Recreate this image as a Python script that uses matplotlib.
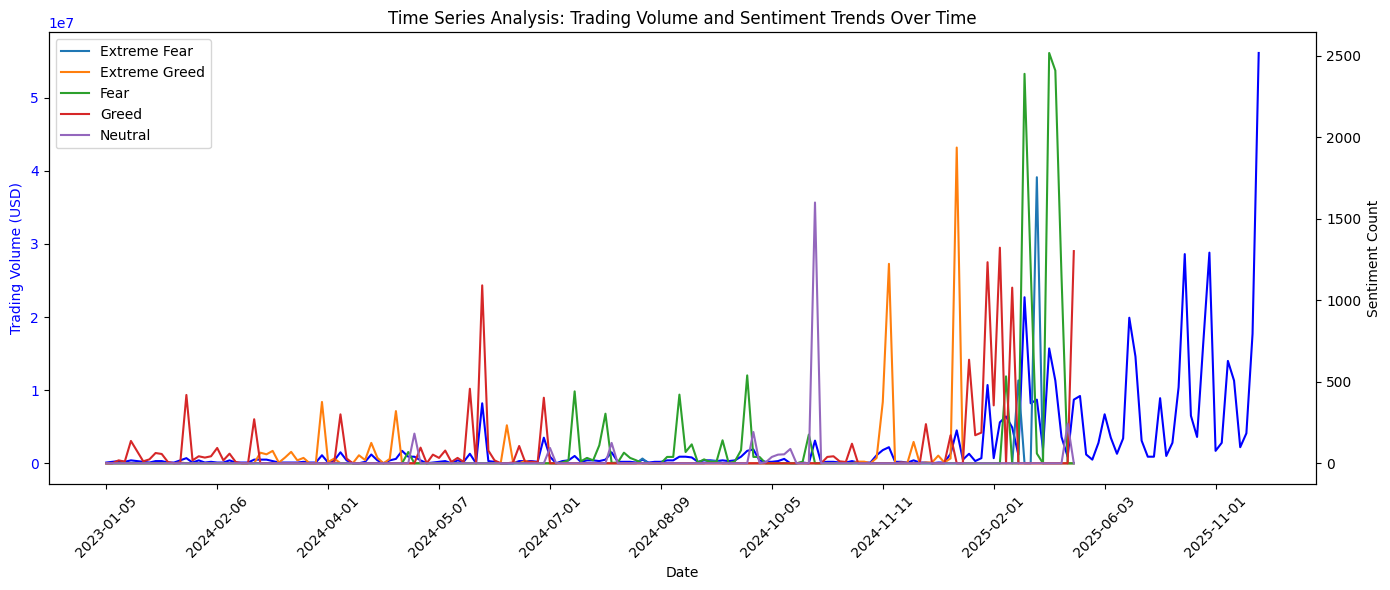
import numpy as np
import matplotlib
matplotlib.use('Agg')
from matplotlib import pyplot as plt

# Tick labels shown on the x axis (one every 18 dates)
tick_labels = ['2023-01-05', '2024-02-06', '2024-04-01', '2024-05-07', '2024-07-01',
               '2024-08-09', '2024-10-05', '2024-11-11', '2025-02-01', '2025-06-03',
               '2025-11-01']
tick_step = 18

# Daily trading volume, in units of 1e7 USD
volume_e7 = [
    0.01, 0.02, 0.03, 0.02, 0.04, 0.03, 0.02, 0.01, 0.03, 0.03,
    0.01, 0.01, 0.04, 0.07, 0.01, 0.04, 0.01, 0.02, 0.01, 0.01,
    0.04, 0.01, 0.01, 0.01, 0.05, 0.05, 0.05, 0.03, 0.01, 0.01,
    0.01, 0.01, 0.02, 0.01, 0.01, 0.11, 0.01, 0.04, 0.15, 0.04,
    0.00, 0.00, 0.02, 0.12, 0.04, 0.00, 0.04, 0.06, 0.17, 0.09,
    0.09, 0.04, 0.00, 0.01, 0.02, 0.03, 0.00, 0.04, 0.02, 0.13,
    0.00, 0.82, 0.03, 0.02, 0.00, 0.00, 0.00, 0.03, 0.03, 0.03,
    0.02, 0.35, 0.09, 0.00, 0.03, 0.04, 0.10, 0.02, 0.04, 0.04,
    0.03, 0.05, 0.15, 0.02, 0.02, 0.02, 0.01, 0.05, 0.01, 0.02,
    0.02, 0.04, 0.04, 0.09, 0.09, 0.08, 0.02, 0.04, 0.04, 0.03,
    0.04, 0.03, 0.04, 0.09, 0.17, 0.19, 0.04, 0.02, 0.02, 0.03,
    0.06, 0.00, 0.00, 0.01, 0.00, 0.31, 0.01, 0.02, 0.02, 0.01,
    0.01, 0.03, 0.01, 0.01, 0.01, 0.11, 0.18, 0.22, 0.02, 0.02,
    0.01, 0.04, 0.01, 0.01, 0.00, 0.01, 0.01, 0.13, 0.45, 0.05,
    0.13, 0.03, 0.07, 1.07, 0.07, 0.56, 0.64, 0.49, 0.12, 2.27,
    0.82, 0.87, 0.20, 1.57, 1.13, 0.36, 0.09, 0.87, 0.92, 0.12,
    0.05, 0.28, 0.67, 0.35, 0.13, 0.34, 1.99, 1.46, 0.31, 0.09,
    0.09, 0.89, 0.10, 0.28, 1.04, 2.86, 0.65, 0.36, 1.64, 2.88,
    0.17, 0.28, 1.40, 1.13, 0.22, 0.41, 1.77, 5.61,
]

# Sentiment counts per date (shorter series, same dates from the start)
extreme_fear = [
    0, 0, 0, 0, 0, 0, 0, 0, 0, 0,
    0, 0, 0, 0, 0, 0, 0, 0, 0, 0,
    0, 0, 0, 0, 0, 0, 0, 0, 0, 0,
    0, 0, 0, 0, 0, 0, 0, 0, 0, 0,
    0, 0, 0, 0, 0, 0, 0, 0, 0, 0,
    0, 0, 0, 0, 0, 0, 0, 0, 0, 0,
    0, 0, 0, 0, 0, 0, 0, 0, 0, 0,
    0, 0, 0, 0, 0, 0, 0, 0, 0, 0,
    0, 0, 0, 0, 0, 0, 0, 29, 0, 0,
    0, 0, 0, 0, 0, 0, 0, 0, 15, 15,
    0, 0, 0, 0, 0, 0, 0, 0, 0, 0,
    0, 0, 0, 0, 0, 0, 0, 0, 0, 0,
    0, 0, 0, 0, 0, 0, 0, 0, 0, 0,
    0, 0, 0, 0, 0, 0, 0, 0, 0, 0,
    0, 0, 0, 0, 0, 0, 0, 0, 508, 0,
    0, 1754, 0, 0, 0, 0, 0, 0,
]
extreme_greed = [
    0, 0, 0, 0, 0, 0, 0, 0, 0, 0,
    0, 0, 5, 0, 0, 0, 0, 0, 0, 0,
    0, 0, 0, 0, 0, 65, 55, 76, 4, 35,
    70, 18, 33, 0, 0, 376, 8, 29, 0, 0,
    0, 49, 20, 125, 33, 0, 27, 320, 0, 0,
    0, 0, 0, 0, 0, 0, 0, 0, 0, 0,
    0, 0, 0, 0, 0, 233, 8, 0, 15, 5,
    0, 0, 0, 0, 0, 0, 0, 0, 0, 0,
    0, 0, 0, 0, 0, 0, 0, 0, 0, 0,
    0, 0, 0, 0, 0, 0, 0, 0, 0, 0,
    0, 0, 0, 0, 0, 0, 0, 0, 0, 0,
    0, 0, 0, 0, 0, 0, 0, 0, 0, 0,
    0, 0, 10, 10, 0, 33, 376, 1223, 0, 5,
    3, 131, 0, 5, 5, 47, 5, 30, 1936, 0,
    0, 0, 0, 0, 0, 0, 0, 0, 0, 0,
    0, 0, 0, 0, 0, 0, 0, 0,
]
fear = [
    0, 0, 0, 0, 0, 0, 0, 0, 0, 0,
    0, 0, 0, 0, 0, 0, 0, 0, 0, 0,
    0, 0, 0, 0, 0, 0, 0, 0, 0, 0,
    0, 0, 0, 0, 0, 0, 0, 0, 0, 0,
    0, 0, 0, 0, 0, 0, 0, 0, 0, 69,
    0, 0, 0, 0, 0, 0, 0, 0, 0, 0,
    0, 0, 0, 0, 0, 0, 0, 0, 0, 0,
    0, 0, 0, 0, 5, 18, 441, 12, 33, 18,
    110, 304, 2, 5, 65, 33, 18, 0, 0, 0,
    0, 39, 39, 421, 69, 116, 4, 24, 8, 8,
    141, 0, 12, 80, 539, 39, 39, 0, 0, 0,
    0, 0, 0, 10, 176, 0, 0, 0, 0, 0,
    0, 0, 0, 0, 0, 0, 0, 0, 0, 0,
    0, 0, 0, 0, 0, 0, 0, 0, 0, 0,
    0, 0, 0, 0, 0, 0, 533, 0, 0, 2388,
    1200, 60, 0, 2516, 2408, 1150, 0, 0,
]
greed = [
    0, 0, 18, 10, 137, 75, 12, 24, 63, 57,
    8, 0, 0, 419, 18, 43, 35, 43, 94, 18,
    59, 8, 0, 0, 270, 0, 0, 0, 0, 0,
    0, 0, 0, 0, 0, 0, 0, 5, 300, 29,
    0, 0, 0, 0, 0, 0, 0, 0, 0, 0,
    0, 96, 0, 53, 33, 78, 8, 33, 8, 457,
    0, 1091, 78, 18, 0, 0, 5, 106, 5, 10,
    5, 402, 0, 0, 0, 0, 0, 0, 0, 0,
    0, 0, 0, 0, 0, 0, 0, 0, 0, 0,
    0, 0, 0, 0, 0, 0, 0, 0, 0, 0,
    0, 0, 0, 0, 0, 0, 0, 0, 0, 0,
    0, 0, 0, 0, 0, 0, 0, 39, 43, 12,
    8, 120, 0, 0, 0, 0, 0, 0, 0, 0,
    0, 0, 0, 240, 0, 0, 0, 172, 0, 0,
    635, 172, 188, 1233, 355, 1322, 0, 1077, 0, 0,
    0, 0, 0, 0, 0, 0, 0, 1301,
]
neutral = [
    0, 0, 0, 0, 0, 0, 0, 0, 0, 0,
    0, 0, 0, 0, 0, 0, 0, 0, 0, 0,
    0, 0, 0, 0, 0, 0, 0, 0, 0, 0,
    0, 0, 0, 0, 0, 0, 0, 0, 0, 0,
    0, 0, 0, 0, 0, 0, 0, 0, 0, 0,
    182, 0, 0, 0, 0, 0, 0, 0, 0, 0,
    0, 0, 0, 0, 0, 0, 0, 0, 0, 0,
    0, 0, 94, 0, 0, 0, 0, 0, 0, 0,
    0, 0, 125, 0, 0, 0, 0, 0, 0, 0,
    0, 0, 0, 0, 0, 0, 0, 0, 0, 0,
    0, 0, 0, 0, 0, 192, 0, 6, 39, 53,
    55, 88, 0, 0, 0, 1599, 0, 0, 0, 0,
    0, 0, 0, 0, 0, 0, 0, 0, 0, 0,
    0, 0, 0, 0, 0, 0, 0, 0, 0, 0,
    0, 0, 0, 0, 0, 0, 0, 0, 0, 0,
    0, 0, 0, 0, 0, 0, 243, 0,
]

sentiments = [
    ('Extreme Fear', extreme_fear),
    ('Extreme Greed', extreme_greed),
    ('Fear', fear),
    ('Greed', greed),
    ('Neutral', neutral),
]

volume = np.array(volume_e7) * 1e7
x = np.arange(len(volume))

fig, ax1 = plt.subplots(figsize=(13.9, 5.9), dpi=100)
ax1.plot(x, volume, color='blue')
ax1.set_xlabel('Date')
ax1.set_ylabel('Trading Volume (USD)', color='blue')
ax1.tick_params(axis='y', labelcolor='blue')
ax1.yaxis.get_offset_text().set_color('blue')

# Sentiment counts on a second y axis
ax2 = ax1.twinx()
for name, counts in sentiments:
    ax2.plot(np.arange(len(counts)), counts, label=name)
ax2.set_ylabel('Sentiment Count')
ax2.legend(loc='upper left')

ax1.set_xticks(x[::tick_step])
ax1.set_xticklabels(tick_labels, rotation=45)

plt.title('Time Series Analysis: Trading Volume and Sentiment Trends Over Time')
fig.subplots_adjust(left=0.035, right=0.947, top=0.945, bottom=0.18)
plt.savefig('out.png')
